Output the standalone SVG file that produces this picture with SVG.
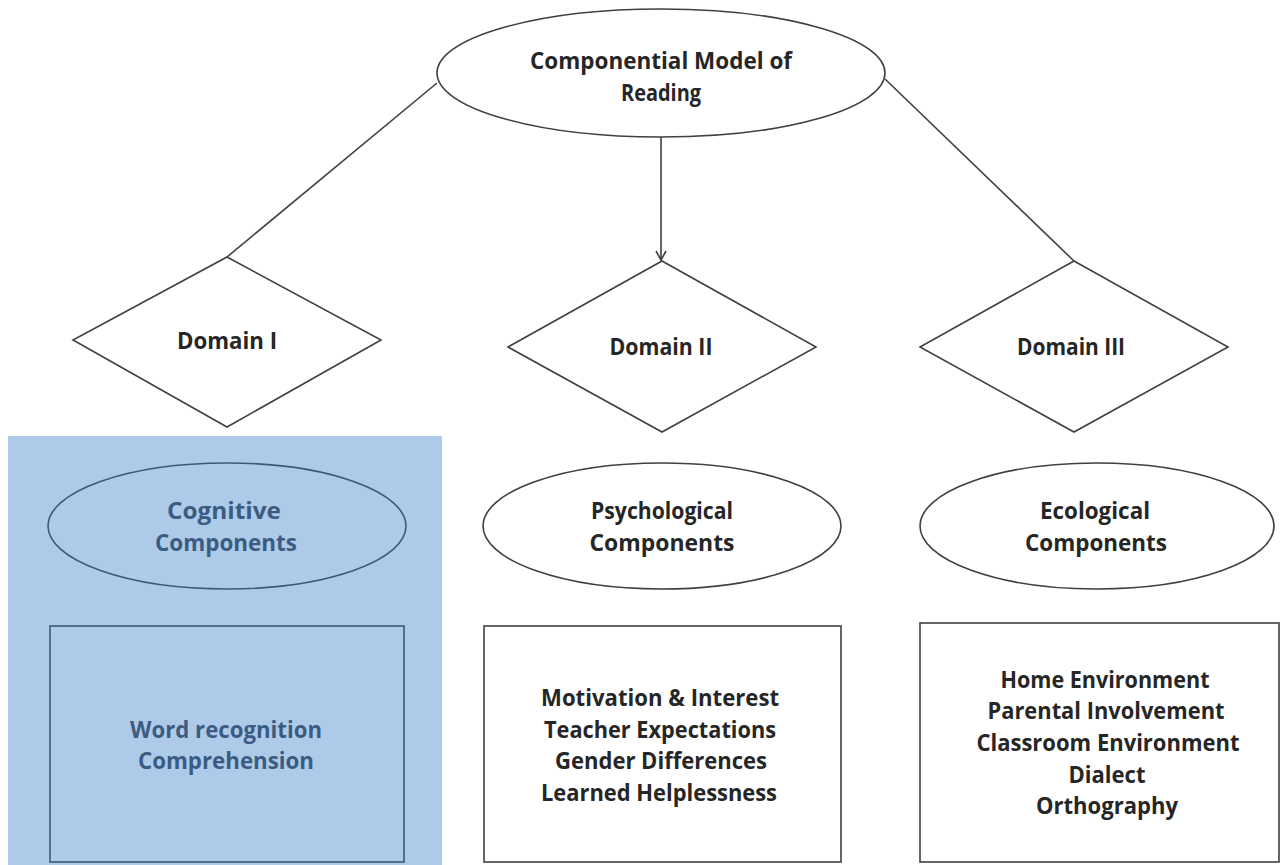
<svg xmlns="http://www.w3.org/2000/svg" width="1281" height="865" viewBox="0 0 1281 865">
<style>
.shape{fill:#ffffff;stroke:#404040;stroke-width:1.6}
.blue{fill:#adcbe9;stroke:#3f5877;stroke-width:1.6}
.conn{fill:none;stroke:#404040;stroke-width:1.6}
text{font-family:"Open Sans","Liberation Sans",sans-serif;font-weight:700;font-size:23px;fill:#262626;text-anchor:middle}
.bt{fill:#3b5b82}
</style>
<defs>
<marker id="arr" markerWidth="12" markerHeight="12" refX="10" refY="6" orient="auto" markerUnits="userSpaceOnUse">
<path d="M1,1 L10,6 L1,11" fill="none" stroke="#404040" stroke-width="1.6"/>
</marker>
</defs>
<rect x="0" y="0" width="1281" height="865" fill="#ffffff"/>
<rect id="cognitive-panel" x="8" y="436" width="434" height="429" fill="#adcbe9"/>
<g id="connectors">
<line class="conn" x1="437" y1="83" x2="227" y2="257"/>
<line class="conn" x1="885" y1="79" x2="1074" y2="261"/>
<line class="conn" x1="661" y1="137" x2="661" y2="260" marker-end="url(#arr)"/>
</g>
<g id="root">
<ellipse class="shape" cx="661" cy="73" rx="224" ry="64"/>
<text x="661" y="69" textLength="262" lengthAdjust="spacingAndGlyphs">Componential Model of</text>
<text x="661" y="101" textLength="80" lengthAdjust="spacingAndGlyphs">Reading</text>
</g>
<g id="domain1">
<polygon class="shape" points="227,257 381,340 227,427 73,340"/>
<text x="227" y="349" textLength="100" lengthAdjust="spacingAndGlyphs">Domain I</text>
</g>
<g id="domain2">
<polygon class="shape" points="662,261 816,347 662,432 508,347"/>
<text x="661" y="355" textLength="103" lengthAdjust="spacingAndGlyphs">Domain II</text>
</g>
<g id="domain3">
<polygon class="shape" points="1074,261 1228,347 1074,432 920,347"/>
<text x="1071" y="355" textLength="108" lengthAdjust="spacingAndGlyphs">Domain III</text>
</g>
<g id="cognitive">
<ellipse class="blue" cx="227" cy="526" rx="179" ry="63"/>
<text class="bt" x="224" y="519" textLength="114" lengthAdjust="spacingAndGlyphs">Cognitive</text>
<text class="bt" x="226" y="551" textLength="142" lengthAdjust="spacingAndGlyphs">Components</text>
</g>
<g id="cognitive-items">
<rect class="blue" x="50" y="626" width="354" height="236"/>
<text class="bt" x="226" y="738" textLength="192" lengthAdjust="spacingAndGlyphs">Word recognition</text>
<text class="bt" x="226" y="769" textLength="176" lengthAdjust="spacingAndGlyphs">Comprehension</text>
</g>
<g id="psychological">
<ellipse class="shape" cx="662" cy="526" rx="179" ry="63"/>
<text x="662" y="519" textLength="142" lengthAdjust="spacingAndGlyphs">Psychological</text>
<text x="662" y="551" textLength="145" lengthAdjust="spacingAndGlyphs">Components</text>
</g>
<g id="psychological-items">
<rect class="shape" x="484" y="626" width="357" height="236"/>
<text x="660" y="706" textLength="238" lengthAdjust="spacingAndGlyphs">Motivation &amp; Interest</text>
<text x="660" y="738" textLength="232" lengthAdjust="spacingAndGlyphs">Teacher Expectations</text>
<text x="661" y="769" textLength="212" lengthAdjust="spacingAndGlyphs">Gender Differences</text>
<text x="659" y="801" textLength="236" lengthAdjust="spacingAndGlyphs">Learned Helplessness</text>
</g>
<g id="ecological">
<ellipse class="shape" cx="1097" cy="526" rx="177" ry="63"/>
<text x="1095" y="519" textLength="110" lengthAdjust="spacingAndGlyphs">Ecological</text>
<text x="1096" y="551" textLength="142" lengthAdjust="spacingAndGlyphs">Components</text>
</g>
<g id="ecological-items">
<rect class="shape" x="920" y="623" width="359" height="239"/>
<text x="1105" y="688" textLength="209" lengthAdjust="spacingAndGlyphs">Home Environment</text>
<text x="1106" y="719" textLength="237" lengthAdjust="spacingAndGlyphs">Parental Involvement</text>
<text x="1108" y="751" textLength="263" lengthAdjust="spacingAndGlyphs">Classroom Environment</text>
<text x="1107" y="783" textLength="77" lengthAdjust="spacingAndGlyphs">Dialect</text>
<text x="1107" y="814" textLength="142" lengthAdjust="spacingAndGlyphs">Orthography</text>
</g>
</svg>
